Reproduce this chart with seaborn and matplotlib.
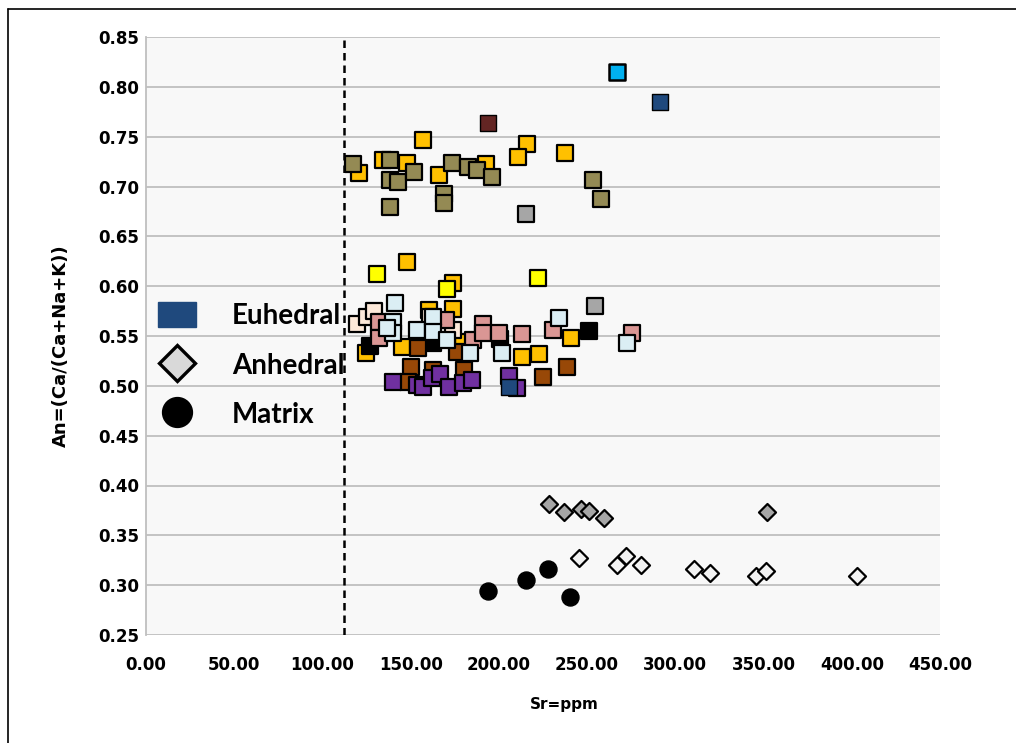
import matplotlib
matplotlib.use("Agg")
import matplotlib.pyplot as plt
from matplotlib.lines import Line2D
from matplotlib.patches import Patch
import numpy as np
import pandas as pd
import seaborn as sns

# ---- plagioclase groups (Sr in ppm, An fraction) ----
gold_sr = [157.2, 215.8, 211.1, 237.5, 120.9, 134.5, 148.1, 166.1, 192.7, 147.8,
           174.2, 174.2, 160.6, 124.7, 145.0, 179.9, 240.7, 213.3, 222.8]
gold_an = [0.747, 0.743, 0.730, 0.734, 0.714, 0.727, 0.724, 0.712, 0.723, 0.624,
           0.603, 0.577, 0.576, 0.533, 0.539, 0.544, 0.548, 0.529, 0.532]

olive_sr = [117.5, 138.3, 138.3, 143.0, 151.9, 173.6, 182.7, 187.5, 196.3, 138.1,
            168.9, 168.9, 253.6, 257.7]
olive_an = [0.723, 0.727, 0.707, 0.705, 0.715, 0.724, 0.720, 0.717, 0.710, 0.679,
            0.692, 0.683, 0.707, 0.687]

maroon_sr = [194.0]
maroon_an = [0.764]

grey_sr = [215.2, 254.5]
grey_an = [0.672, 0.580]

cyan_sr = [266.8]
cyan_an = [0.815]

yellow_sr = [131.1, 170.5, 222.4]
yellow_an = [0.612, 0.597, 0.608]

peach_sr = [119.8, 125.1, 129.4, 174.2, 161.0]
peach_an = [0.562, 0.569, 0.575, 0.556, 0.569]

rose_sr = [132.3, 132.3, 170.1, 185.5, 191.2, 191.2, 200.3, 213.0, 230.9, 275.7]
rose_an = [0.564, 0.548, 0.566, 0.546, 0.562, 0.553, 0.553, 0.552, 0.556, 0.553]

black_sr = [127.0, 162.7, 200.7, 250.8]
black_an = [0.540, 0.543, 0.547, 0.555]

brown_sr = [154.4, 176.1, 150.1, 162.9, 180.3, 148.7, 238.5, 225.2]
brown_an = [0.538, 0.534, 0.519, 0.516, 0.516, 0.504, 0.519, 0.509]

purple_sr = [139.8, 153.5, 157.2, 162.0, 166.7, 171.7, 179.5, 184.6, 205.9, 210.1]
purple_an = [0.504, 0.501, 0.499, 0.508, 0.512, 0.499, 0.503, 0.506, 0.510, 0.498]

navy_sr = [291.4, 205.9]
navy_an = [0.785, 0.499]

iceblue_sr = [141.2, 140.2, 140.2, 136.4, 153.4, 162.9, 162.9, 170.8, 183.7,
              233.8, 201.6, 272.5]
iceblue_an = [0.583, 0.564, 0.553, 0.558, 0.556, 0.569, 0.554, 0.546, 0.533,
              0.568, 0.533, 0.543]

# anhedral crystals
anh_grey_sr = [228.5, 237.0, 246.4, 251.3, 259.3, 351.9]
anh_grey_an = [0.381, 0.373, 0.376, 0.374, 0.367, 0.373]
anh_white_sr = [245.6, 266.8, 272.1, 280.6, 310.8, 319.7, 345.8, 351.5, 403.2]
anh_white_an = [0.327, 0.320, 0.329, 0.320, 0.316, 0.312, 0.309, 0.314, 0.309]

# groundmass
matrix_sr = [194.0, 215.4, 227.7, 240.4]
matrix_an = [0.294, 0.305, 0.316, 0.288]

sr_cutoff = 112.0

x_ticks = [0, 50, 100, 150, 200, 250, 300, 350, 400, 450]
y_ticks = [0.25, 0.30, 0.35, 0.40, 0.45, 0.50, 0.55, 0.60, 0.65, 0.70, 0.75, 0.80, 0.85]

legend_labels = ["Euhedral", "Anhedral", "Matrix"]

# ---- styling ----
sns.set_theme(style="white")
plt.rcParams["font.family"] = ["DejaVu Sans"]
plt.rcParams["text.color"] = "black"
plt.rcParams["axes.labelcolor"] = "black"

W, H = 1016, 743
fig = plt.figure(figsize=(W / 100, H / 100), dpi=100)
fig.patch.set_facecolor("white")
ax = fig.add_axes([146 / W, 1 - 635 / H, (940 - 146) / W, (635 - 37) / H])
ax.set_facecolor("#f8f8f8")

# drawing order controls overlap in the dense cluster
groups = [
    ("gold", gold_sr, gold_an, "#ffc000", "s", 1.6),
    ("olive", olive_sr, olive_an, "#948a54", "s", 1.6),
    ("maroon", maroon_sr, maroon_an, "#632523", "s", 1.0),
    ("grey", grey_sr, grey_an, "#a6a6a6", "s", 1.6),
    ("cyan", cyan_sr, cyan_an, "#00b0f0", "s", 1.8),
    ("yellow", yellow_sr, yellow_an, "#ffff00", "s", 1.6),
    ("black", black_sr, black_an, "#000000", "s", 1.6),
    ("brown", brown_sr, brown_an, "#984807", "s", 1.6),
    ("purple", purple_sr, purple_an, "#7030a0", "s", 1.6),
    ("navy", navy_sr, navy_an, "#1f497d", "s", 1.0),
    ("peach", peach_sr, peach_an, "#fde9d9", "s", 1.6),
    ("rose", rose_sr, rose_an, "#da9694", "s", 1.6),
    ("iceblue", iceblue_sr, iceblue_an, "#dbeef4", "s", 1.6),
    ("anh_grey", anh_grey_sr, anh_grey_an, "#a6a6a6", "D", 1.6),
    ("anh_white", anh_white_sr, anh_white_an, "#f2f2f2", "D", 1.6),
    ("matrix", matrix_sr, matrix_an, "#000000", "o", 1.0),
]
sizes = {"s": 135, "D": 75, "o": 150}

for name, xs, ys, col, mk, lw in groups:
    df = pd.DataFrame({"Sr": xs, "An": ys})
    sns.scatterplot(data=df, x="Sr", y="An", ax=ax, color=col, marker=mk,
                    s=sizes[mk], edgecolor="black", linewidth=lw, zorder=3,
                    legend=False)

ax.axvline(sr_cutoff, color="black", lw=1.8, ls=(0, (3, 2)), zorder=2)

ax.set_xlim(x_ticks[0], x_ticks[-1])
ax.set_ylim(y_ticks[0], y_ticks[-1])
ax.set_xticks(x_ticks)
ax.set_yticks(y_ticks)
ax.set_xticklabels([f"{v:.2f}" for v in x_ticks], fontsize=12, fontweight="bold")
ax.set_yticklabels([f"{v:.2f}" for v in y_ticks], fontsize=12, fontweight="bold")
ax.tick_params(axis="x", length=0, pad=15, colors="black")
ax.tick_params(axis="y", length=0, pad=5, colors="black")
ax.yaxis.grid(True, color="#bfbfbf", lw=1.3)
ax.xaxis.grid(False)
for side in ["top", "right", "bottom"]:
    ax.spines[side].set_visible(False)
ax.spines["left"].set_color("#bfbfbf")
ax.spines["left"].set_linewidth(1.3)

ax.set_xlabel("Sr=ppm", fontsize=11, fontweight="bold", color="black")
ax.xaxis.set_label_coords((564 - 146) / (940 - 146), -(697 - 635) / (635 - 37))
ax.set_ylabel("An=(Ca/(Ca+Na+K))", fontsize=13, fontweight="bold", color="black")
ax.yaxis.set_label_coords(-(146 - 70) / (940 - 146), (635 - 346) / (635 - 37))

handles = [
    Patch(facecolor="#1f497d", edgecolor="#1f497d"),
    Line2D([], [], ls="none", marker="D", markersize=18, markerfacecolor="#d9d9d9",
           markeredgecolor="black", markeredgewidth=2.4),
    Line2D([], [], ls="none", marker="o", markersize=21.5, markerfacecolor="black",
           markeredgecolor="black"),
]
leg = ax.legend(handles, legend_labels, loc="upper left",
                bbox_to_anchor=(139 / W, 1 - 283 / H), bbox_transform=fig.transFigure,
                frameon=False, prop={"family": "Lato", "weight": "bold", "size": 20},
                handlelength=1.35, handleheight=1.0, handletextpad=1.3,
                labelspacing=0.8, borderpad=0.2, labelcolor="black")

# chart frame
fig.add_artist(Line2D([8 / W, 8 / W], [0, 1 - 9 / H], color="black", lw=1.2,
                      transform=fig.transFigure))
fig.add_artist(Line2D([8 / W, 1], [1 - 9 / H, 1 - 9 / H], color="black", lw=1.2,
                      transform=fig.transFigure))

fig.savefig("out.png", dpi=100, facecolor="white")
